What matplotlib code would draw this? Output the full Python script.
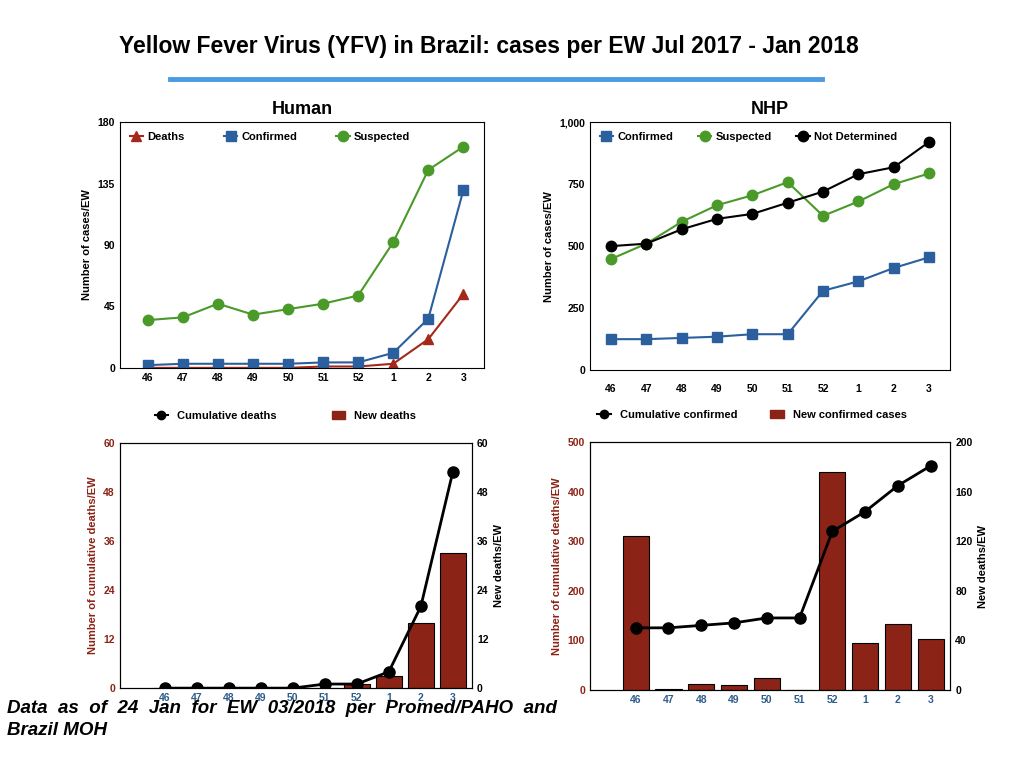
import matplotlib
matplotlib.use('Agg')
import matplotlib.pyplot as plt
from matplotlib.lines import Line2D
from matplotlib.patches import Patch

weeks = ['46', '47', '48', '49', '50', '51', '52', '1', '2', '3']

human_deaths = [0, 0, 0, 0, 0, 1, 1, 3, 21, 54]
human_confirmed = [2, 3, 3, 3, 3, 4, 4, 11, 36, 130]
human_suspected = [35, 37, 47, 39, 43, 47, 53, 92, 145, 162]

nhp_confirmed = [125, 125, 130, 135, 145, 145, 320, 358, 412, 455]
nhp_suspected = [448, 510, 598, 665, 705, 758, 622, 680, 750, 793]
nhp_undetermined = [500, 510, 568, 610, 630, 675, 720, 790, 818, 920]

cum_deaths = [0, 0, 0, 0, 0, 1, 1, 4, 20, 53]
new_deaths = [0, 0, 0, 0, 0, 0, 1, 3, 16, 33]

new_confirmed = [310, 2, 12, 10, 24, 0, 440, 95, 132, 103]
cum_confirmed = [50, 50, 52, 54, 58, 58, 128, 144, 165, 181]

RED = '#a3291b'
BLUE = '#2c5f9e'
GREEN = '#4a9a2a'
BAR = '#8b2316'
TICKBLUE = '#2e5c8a'

plt.rcParams['font.family'] = ['Liberation Sans', 'DejaVu Sans']
fig = plt.figure(figsize=(10.24, 7.68), dpi=100)
x = list(range(len(weeks)))

fig.text(0.477, 0.94, 'Yellow Fever Virus (YFV) in Brazil: cases per EW Jul 2017 - Jan 2018',
         ha='center', va='center', fontsize=16.5, fontweight='bold')
fig.add_artist(Line2D([170/1024, 822/1024], [1-79/768]*2, color='#4a9be0', lw=3.5))

def style(ax, tickcolor='black'):
    ax.tick_params(labelsize=7.5, length=0)
    for lab in ax.get_xticklabels():
        lab.set_fontweight('bold'); lab.set_color(tickcolor)
    for lab in ax.get_yticklabels():
        lab.set_fontweight('bold')

# Human
ax = fig.add_axes([0.117, 0.521, 0.356, 0.320])
ax.plot(x, human_deaths, '-^', color=RED, ms=7.5, lw=1.5, label='Deaths')
ax.plot(x, human_confirmed, '-s', color=BLUE, ms=7.5, lw=1.5, label='Confirmed')
ax.plot(x, human_suspected, '-o', color=GREEN, ms=7.5, lw=1.5, label='Suspected')
ax.set_xlim(-0.8, 9.6); ax.set_ylim(0, 180); ax.set_yticks([0, 45, 90, 135, 180])
ax.set_xticks(x, weeks)
ax.set_ylabel('Number of cases/EW', fontsize=8, fontweight='bold')
ax.set_title('Human', fontsize=13, fontweight='bold', pad=6)
ax.legend(loc='upper left', ncol=3, frameon=False, prop={'weight': 'bold', 'size': 8},
          columnspacing=3.5, handlelength=1.2, handletextpad=0.4)
style(ax)

# NHP
ax = fig.add_axes([0.576, 0.518, 0.352, 0.323])
ax.plot(x, nhp_confirmed, '-s', color=BLUE, ms=7.5, lw=1.5, label='Confirmed')
ax.plot(x, nhp_suspected, '-o', color=GREEN, ms=7.5, lw=1.5, label='Suspected')
ax.plot(x, nhp_undetermined, '-o', color='black', ms=7.5, lw=1.5, label='Not Determined')
ax.set_xlim(-0.6, 9.6); ax.set_ylim(0, 1000); ax.set_yticks([0, 250, 500, 750, 1000])
ax.set_yticklabels(['0', '250', '500', '750', '1,000'])
ax.set_xticks(x, weeks)
ax.tick_params(axis='x', pad=10)
ax.set_ylabel('Number of cases/EW', fontsize=8, fontweight='bold')
ax.set_title('NHP', fontsize=13, fontweight='bold', pad=6)
ax.legend(loc='upper left', ncol=3, frameon=False, prop={'weight': 'bold', 'size': 8},
          columnspacing=2.2, handlelength=1.2, handletextpad=0.4)
style(ax)

# Human deaths
ax = fig.add_axes([0.117, 0.104, 0.344, 0.319])
ax2 = ax.twinx()
ax2.bar(x, new_deaths, width=0.8, color=BAR, edgecolor='black', lw=0.8)
ax2.set_ylim(0, 60); ax2.set_yticks(range(0, 61, 12))
ax2.set_ylabel('New deaths/EW', fontsize=8, fontweight='bold')
ax.plot(x, cum_deaths, '-o', color='black', ms=8, lw=2)
ax.set_zorder(ax2.get_zorder() + 1); ax.patch.set_visible(False)
ax.set_ylim(0, 60); ax.set_yticks(range(0, 61, 12)); ax.set_xlim(-1.4, 9.6)
ax.set_xticks(x, weeks)
ax.set_ylabel('Number of cumulative deaths/EW', fontsize=8, fontweight='bold', color=BAR)
style(ax, TICKBLUE); style(ax2)
for lab in ax.get_yticklabels():
    lab.set_color(BAR)
ax.legend(handles=[Line2D([], [], marker='o', color='black', ms=6, lw=1.5, label='Cumulative deaths'),
                   Patch(color=BAR, label='New deaths')],
          loc='lower center', bbox_to_anchor=(0.47, 1.05), ncol=2, frameon=False,
          prop={'weight': 'bold', 'size': 8}, columnspacing=5, handlelength=1.2)

# NHP confirmed
ax = fig.add_axes([0.576, 0.102, 0.352, 0.322])
ax.bar(x, new_confirmed, width=0.8, color=BAR, edgecolor='black', lw=0.8)
ax.set_ylim(0, 500); ax.set_yticks(range(0, 501, 100)); ax.set_xlim(-1.4, 9.6)
ax.set_xticks(x, weeks)
ax.set_ylabel('Number of cumulative deaths/EW', fontsize=8, fontweight='bold', color=BAR)
ax2 = ax.twinx()
ax2.plot(x, cum_confirmed, '-o', color='black', ms=8, lw=2)
ax2.set_ylim(0, 200); ax2.set_yticks(range(0, 201, 40))
ax2.set_ylabel('New deaths/EW', fontsize=8, fontweight='bold')
style(ax, TICKBLUE); style(ax2)
for lab in ax.get_yticklabels():
    lab.set_color(BAR)
ax.legend(handles=[Line2D([], [], marker='o', color='black', ms=6, lw=1.5, label='Cumulative confirmed'),
                   Patch(color=BAR, label='New confirmed cases')],
          loc='lower center', bbox_to_anchor=(0.45, 1.05), ncol=2, frameon=False,
          prop={'weight': 'bold', 'size': 8}, columnspacing=3, handlelength=1.2)

fig.text(0.007, 0.063, 'Data  as  of  24  Jan  for  EW  03/2018  per  Promed/PAHO  and\nBrazil MOH',
         fontsize=13.5, fontweight='bold', style='italic', va='center', linespacing=1.4)

fig.savefig('out.png', dpi=100)
